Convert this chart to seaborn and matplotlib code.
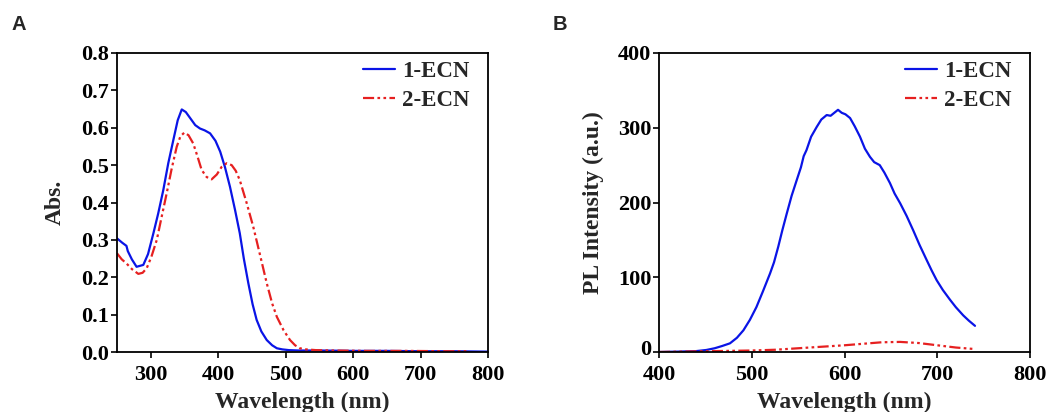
import numpy as np
import pandas as pd
import matplotlib
matplotlib.use("Agg")
import matplotlib.pyplot as plt
import matplotlib.transforms as mtransforms
import seaborn as sns

# UV-vis absorption spectra
abs_wl_1 = [250, 258, 264, 266, 272, 279, 289, 296, 304, 311, 318.6, 326, 333.5, 340, 346, 352, 360, 366, 373, 380, 388, 396, 403, 410, 417.5, 425, 432, 438, 444.7, 451, 457, 464, 472, 480, 487, 495, 505, 520, 550, 600, 650, 700, 750, 800]
abs_val_1 = [0.304, 0.292, 0.284, 0.27, 0.248, 0.228, 0.233, 0.262, 0.318, 0.37, 0.433, 0.505, 0.567, 0.62, 0.649, 0.642, 0.622, 0.607, 0.598, 0.593, 0.585, 0.565, 0.536, 0.495, 0.442, 0.38, 0.318, 0.25, 0.184, 0.128, 0.086, 0.055, 0.032, 0.018, 0.01, 0.007, 0.005, 0.004, 0.004, 0.003, 0.003, 0.002, 0.002, 0.001]
abs_wl_2 = [250, 257, 264, 272, 281.6, 288, 294, 301, 309, 316, 323.7, 331, 338.5, 344, 349.8, 356, 363, 369, 375.5, 383, 390.3, 398, 405, 412.6, 420, 426, 432, 442, 452, 462, 472, 480, 487, 497, 506.5, 514, 521, 530, 545, 570, 620, 680, 740, 770]
abs_val_2 = [0.264, 0.248, 0.237, 0.222, 0.209, 0.212, 0.224, 0.255, 0.3, 0.36, 0.425, 0.49, 0.549, 0.577, 0.587, 0.58, 0.558, 0.525, 0.487, 0.468, 0.462, 0.475, 0.495, 0.505, 0.5, 0.485, 0.46, 0.4, 0.335, 0.26, 0.184, 0.13, 0.094, 0.058, 0.032, 0.018, 0.01, 0.007, 0.005, 0.004, 0.003, 0.003, 0.002, 0.002]

# Photoluminescence spectra
pl_wl_1 = [400, 420, 440, 451, 460, 468, 476.5, 484, 491, 498, 505, 512, 519.7, 524, 528.6, 533, 537.7, 543, 548.5, 553, 556, 559, 564, 570, 575, 580.8, 585, 589, 593, 597, 601, 606, 611, 616.7, 622, 627.5, 632, 638, 643, 649, 654, 660, 667, 674, 681, 688.6, 694, 699.4, 706, 713.7, 720, 728, 734, 740.7]
pl_val_1 = [0, 0.5, 1.2, 2.7, 5, 8, 11.6, 19, 29, 43, 60, 81, 105, 120, 141, 163, 185, 209, 230, 247, 262, 270, 288, 301, 311, 317, 316, 320, 324, 320, 318, 313, 302, 288, 272, 261, 254, 250, 240, 226, 212, 199, 182, 163, 143, 123, 109, 96, 83, 70, 60, 49, 42, 35]
pl_wl_2 = [400, 425, 450, 475, 500, 525, 550, 575, 600, 620, 640, 660, 680, 700, 720, 740]
pl_val_2 = [0, 0.5, 1, 1.5, 2, 3, 5, 7, 9, 11, 13, 13.5, 12, 9, 6, 4]

labels = ["1-ECN", "2-ECN"]
colors = ["#0a14e6", "#e62020"]

sns.set_theme(style="white")
plt.rcParams["font.family"] = ["Liberation Serif", "DejaVu Serif"]
plt.rcParams["font.weight"] = "bold"

fig = plt.figure(figsize=(10.47, 4.12), dpi=100)
axA = fig.add_axes([117 / 1047, 1 - 352 / 412, 371 / 1047, 299 / 412])
axB = fig.add_axes([659 / 1047, 1 - 352 / 412, 371 / 1047, 299 / 412])

abs_df = pd.concat([
    pd.DataFrame({"wl": abs_wl_1, "val": abs_val_1, "sample": labels[0]}),
    pd.DataFrame({"wl": abs_wl_2, "val": abs_val_2, "sample": labels[1]}),
])
pl_df = pd.concat([
    pd.DataFrame({"wl": pl_wl_1, "val": pl_val_1, "sample": labels[0]}),
    pd.DataFrame({"wl": pl_wl_2, "val": pl_val_2, "sample": labels[1]}),
])

dash_styles = {labels[0]: "", labels[1]: (5, 1.5, 1.2, 1.5, 1.2, 1.5)}
tick_size = 16
label_size = 17

for ax, df in [(axA, abs_df), (axB, pl_df)]:
    sns.lineplot(data=df, x="wl", y="val", hue="sample", style="sample",
                 palette=dict(zip(labels, colors)), dashes=dash_styles,
                 linewidth=1.6, ax=ax, sort=False, estimator=None)
    ax.legend(loc="upper right", bbox_to_anchor=(0.985, 1.015), frameon=False,
              handlelength=1.4,
              prop={"family": "Liberation Serif", "weight": "bold", "size": 16.5},
              borderaxespad=0.15, handletextpad=0.3, labelspacing=0.35)
    for spine in ax.spines.values():
        spine.set_color("black")
        spine.set_linewidth(1.3)
    ax.tick_params(axis="both", direction="out", length=4, width=1.2,
                   labelsize=tick_size, bottom=True, left=True, top=False, right=False,
                   colors="black")
    ax.tick_params(axis="x", pad=5)
    ax.tick_params(axis="y", pad=1.5)
    ax.set_xlabel("Wavelength (nm)", fontsize=label_size, fontweight="bold", labelpad=5)

axA.set_xlim(250, 800)
axA.set_ylim(0, 0.8)
axA.set_xticks([300, 400, 500, 600, 700, 800])
axA.set_yticks(np.arange(0, 0.81, 0.1))
axA.set_yticklabels([f"{v:.1f}" for v in np.arange(0, 0.81, 0.1)])
axA.set_ylabel("Abs.", fontsize=label_size, fontweight="bold", labelpad=11)

axB.set_xlim(400, 800)
axB.set_ylim(0, 400)
axB.set_xticks([400, 500, 600, 700, 800])
axB.set_yticks([0, 100, 200, 300, 400])
axB.set_ylabel("PL Intensity (a.u.)", fontsize=label_size, fontweight="bold", labelpad=10)

for ax in (axA, axB):
    for t in ax.get_xticklabels() + ax.get_yticklabels():
        t.set_fontweight("bold")

# lift the zero label of panel B slightly so it clears the first wavelength label
zero_lbl = axB.get_yticklabels()[0]
zero_lbl.set_transform(zero_lbl.get_transform() +
                       mtransforms.ScaledTranslation(0, 3 / 72, fig.dpi_scale_trans))

fig.text(11 / 1047, 1 - 25 / 412, "A", family="Liberation Sans", weight="bold",
         fontsize=14.5, va="center", ha="left")
fig.text(553 / 1047, 1 - 25 / 412, "B", family="Liberation Sans", weight="bold",
         fontsize=14.5, va="center", ha="left")

fig.savefig("out.png", dpi=100, facecolor="white")
